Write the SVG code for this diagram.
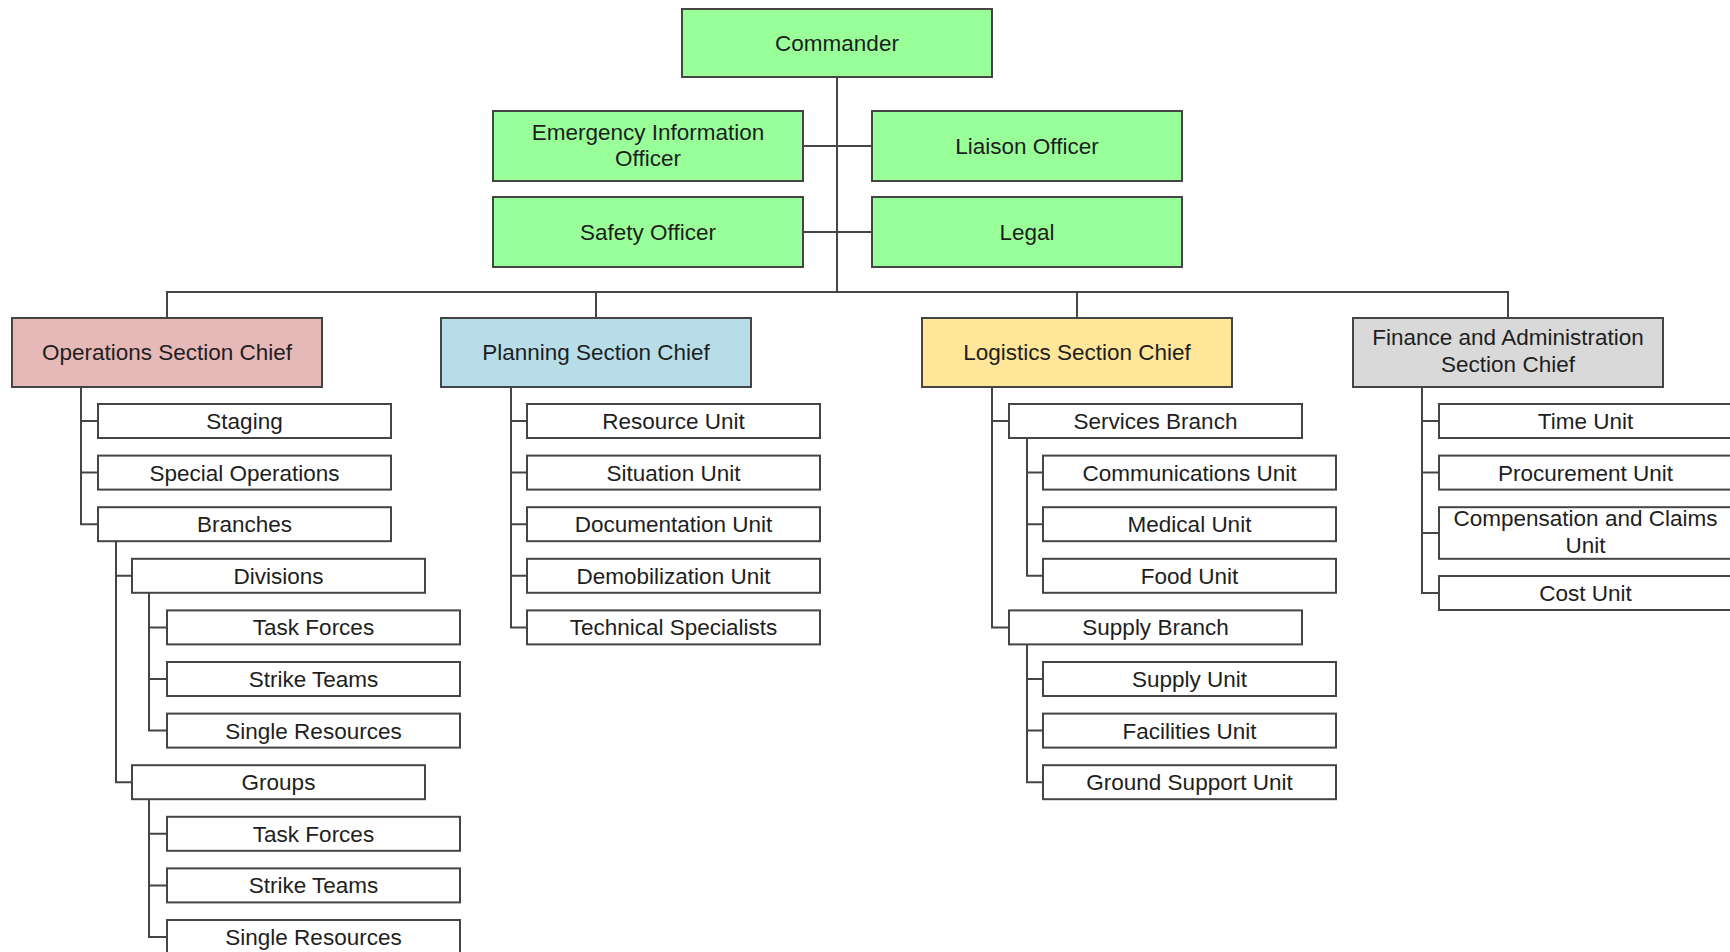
<svg xmlns="http://www.w3.org/2000/svg" width="1730" height="952" viewBox="0 0 1730 952">
<style>
.b{stroke:#454545;stroke-width:2}
.w{fill:#ffffff}
.g{fill:#99ff99}
.o{fill:#e6b9b8}
.p{fill:#b7dde8}
.l{fill:#ffe699}
.f{fill:#d9d9d9}
text{font-family:"Liberation Sans",Arial,sans-serif;font-size:22.5px;fill:#1e1e1e;text-anchor:middle}
.c{fill:none;stroke:#454545;stroke-width:2}
</style>
<rect width="1730" height="952" fill="#ffffff"/>
<g id="connectors" class="c">
<path d="M837 77V292M167 318V292H1508V318M596 292V318M1077 292V318"/>
<path d="M803 146H872M803 232H872"/>
<path d="M81 387V524.2H98M81 421H98M81 472.6H98"/>
<path d="M116 541.2V782.2H132M116 575.8H132"/>
<path d="M149 592.8V730.6H167M149 627.4H167M149 679H167"/>
<path d="M149 799.2V937H167M149 833.8H167M149 885.4H167"/>
<path d="M511 387V627.4H527M511 421H527M511 472.6H527M511 524.2H527M511 575.8H527"/>
<path d="M992 387V627.4H1009M992 421H1009"/>
<path d="M1027 438V575.8H1043M1027 472.6H1043M1027 524.2H1043"/>
<path d="M1027 644.4V782.2H1043M1027 679H1043M1027 730.6H1043"/>
<path d="M1422 387V593H1439M1422 421H1439M1422 472.6H1439M1422 533H1439"/>
</g>
<g id="commander"><rect class="b g" x="682" y="9" width="310" height="68"/><text x="837" y="51">Commander</text></g>
<g id="eio"><rect class="b g" x="493" y="111" width="310" height="70"/><text x="648" y="139.5">Emergency Information</text><text x="648" y="166">Officer</text></g>
<g id="liaison"><rect class="b g" x="872" y="111" width="310" height="70"/><text x="1027" y="154">Liaison Officer</text></g>
<g id="safety"><rect class="b g" x="493" y="197" width="310" height="70"/><text x="648" y="240">Safety Officer</text></g>
<g id="legal"><rect class="b g" x="872" y="197" width="310" height="70"/><text x="1027" y="240">Legal</text></g>
<g id="ops"><rect class="b o" x="12" y="318" width="310" height="69"/><text x="167" y="360">Operations Section Chief</text></g>
<g id="planning"><rect class="b p" x="441" y="318" width="310" height="69"/><text x="596" y="360">Planning Section Chief</text></g>
<g id="logistics"><rect class="b l" x="922" y="318" width="310" height="69"/><text x="1077" y="360">Logistics Section Chief</text></g>
<g id="finance"><rect class="b f" x="1353" y="318" width="310" height="69"/><text x="1508" y="345">Finance and Administration</text><text x="1508" y="372">Section Chief</text></g>
<g id="staging"><rect class="b w" x="98" y="404" width="293" height="34"/><text x="244.5" y="429">Staging</text></g>
<g id="specialops"><rect class="b w" x="98" y="455.6" width="293" height="34"/><text x="244.5" y="480.6">Special Operations</text></g>
<g id="branches"><rect class="b w" x="98" y="507.2" width="293" height="34"/><text x="244.5" y="532.2">Branches</text></g>
<g id="divisions"><rect class="b w" x="132" y="558.8" width="293" height="34"/><text x="278.5" y="583.8">Divisions</text></g>
<g id="div-tf"><rect class="b w" x="167" y="610.4" width="293" height="34"/><text x="313.5" y="635.4">Task Forces</text></g>
<g id="div-st"><rect class="b w" x="167" y="662" width="293" height="34"/><text x="313.5" y="687">Strike Teams</text></g>
<g id="div-sr"><rect class="b w" x="167" y="713.6" width="293" height="34"/><text x="313.5" y="738.6">Single Resources</text></g>
<g id="groups"><rect class="b w" x="132" y="765.2" width="293" height="34"/><text x="278.5" y="790.2">Groups</text></g>
<g id="grp-tf"><rect class="b w" x="167" y="816.8" width="293" height="34"/><text x="313.5" y="841.8">Task Forces</text></g>
<g id="grp-st"><rect class="b w" x="167" y="868.4" width="293" height="34"/><text x="313.5" y="893.4">Strike Teams</text></g>
<g id="grp-sr"><rect class="b w" x="167" y="920" width="293" height="34"/><text x="313.5" y="945">Single Resources</text></g>
<g id="resource"><rect class="b w" x="527" y="404" width="293" height="34"/><text x="673.5" y="429">Resource Unit</text></g>
<g id="situation"><rect class="b w" x="527" y="455.6" width="293" height="34"/><text x="673.5" y="480.6">Situation Unit</text></g>
<g id="documentation"><rect class="b w" x="527" y="507.2" width="293" height="34"/><text x="673.5" y="532.2">Documentation Unit</text></g>
<g id="demobilization"><rect class="b w" x="527" y="558.8" width="293" height="34"/><text x="673.5" y="583.8">Demobilization Unit</text></g>
<g id="technical"><rect class="b w" x="527" y="610.4" width="293" height="34"/><text x="673.5" y="635.4">Technical Specialists</text></g>
<g id="services"><rect class="b w" x="1009" y="404" width="293" height="34"/><text x="1155.5" y="429">Services Branch</text></g>
<g id="communications"><rect class="b w" x="1043" y="455.6" width="293" height="34"/><text x="1189.5" y="480.6">Communications Unit</text></g>
<g id="medical"><rect class="b w" x="1043" y="507.2" width="293" height="34"/><text x="1189.5" y="532.2">Medical Unit</text></g>
<g id="food"><rect class="b w" x="1043" y="558.8" width="293" height="34"/><text x="1189.5" y="583.8">Food Unit</text></g>
<g id="supplybranch"><rect class="b w" x="1009" y="610.4" width="293" height="34"/><text x="1155.5" y="635.4">Supply Branch</text></g>
<g id="supplyunit"><rect class="b w" x="1043" y="662" width="293" height="34"/><text x="1189.5" y="687">Supply Unit</text></g>
<g id="facilities"><rect class="b w" x="1043" y="713.6" width="293" height="34"/><text x="1189.5" y="738.6">Facilities Unit</text></g>
<g id="groundsupport"><rect class="b w" x="1043" y="765.2" width="293" height="34"/><text x="1189.5" y="790.2">Ground Support Unit</text></g>
<g id="time"><rect class="b w" x="1439" y="404" width="293" height="34"/><text x="1585.5" y="429">Time Unit</text></g>
<g id="procurement"><rect class="b w" x="1439" y="455.6" width="293" height="34"/><text x="1585.5" y="480.6">Procurement Unit</text></g>
<g id="compensation"><rect class="b w" x="1439" y="507.2" width="293" height="51.6"/><text x="1585.5" y="525.5">Compensation and Claims</text><text x="1585.5" y="552.5">Unit</text></g>
<g id="cost"><rect class="b w" x="1439" y="576" width="293" height="34"/><text x="1585.5" y="601">Cost Unit</text></g>
</svg>
